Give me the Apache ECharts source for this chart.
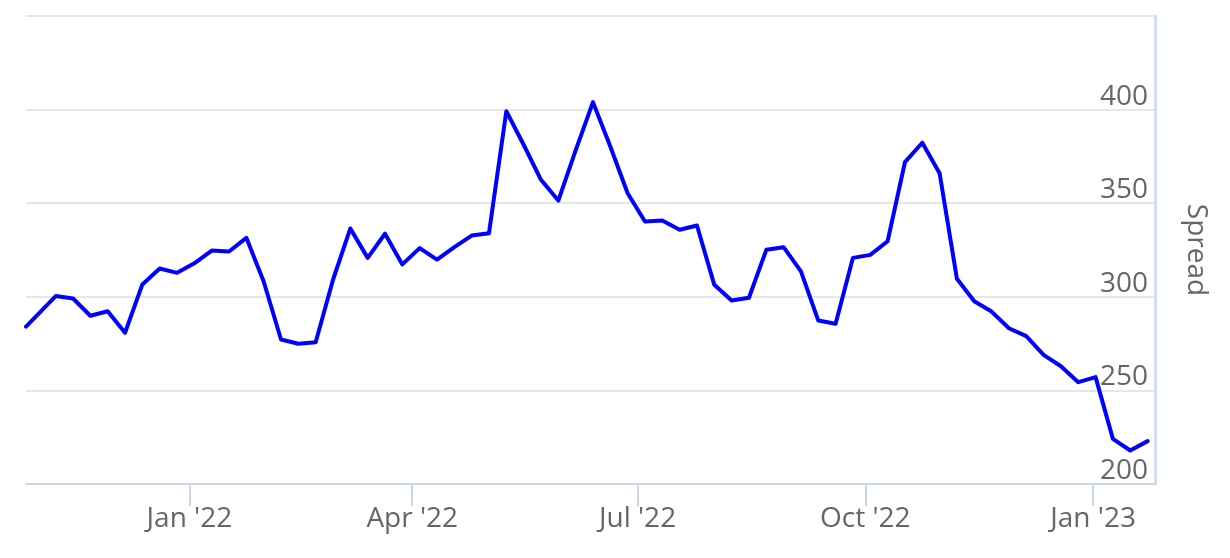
<!DOCTYPE html>
<html>
<head>
<meta charset="utf-8">
<script src="https://cdn.jsdelivr.net/npm/echarts@6/dist/echarts.min.js"></script>
<style>
html,body{margin:0;padding:0;background:#fff;}
#chart{width:1230px;height:558px;}
</style>
</head>
<body>
<div id="chart"></div>
<script>
const dates = [
'2021-10-27','2021-11-08','2021-11-15','2021-11-22','2021-11-29','2021-12-06','2021-12-13','2021-12-20','2021-12-27',
'2022-01-03','2022-01-10','2022-01-17','2022-01-24','2022-01-31','2022-02-07','2022-02-14','2022-02-21','2022-02-28',
'2022-03-07','2022-03-14','2022-03-21','2022-03-28','2022-04-04','2022-04-11','2022-04-18','2022-04-25','2022-05-02',
'2022-05-09','2022-05-16','2022-05-23','2022-05-30','2022-06-06','2022-06-13','2022-06-20','2022-06-27','2022-07-04',
'2022-07-11','2022-07-18','2022-07-25','2022-08-01','2022-08-08','2022-08-15','2022-08-22','2022-08-29','2022-09-05',
'2022-09-12','2022-09-19','2022-09-26','2022-10-03','2022-10-10','2022-10-17','2022-10-24','2022-10-31','2022-11-07',
'2022-11-14','2022-11-21','2022-11-28','2022-12-05','2022-12-12','2022-12-19','2022-12-26','2023-01-02','2023-01-09',
'2023-01-16','2023-01-23'
];
const spread = [
284.1,300.4,299.1,289.9,292.3,280.8,306.6,315.1,312.8,
317.9,324.7,324.2,331.5,308.2,277.2,274.9,275.7,309.1,
336.5,320.8,333.7,317.3,326.0,319.9,326.5,332.7,334.0,
399.1,381.2,362.5,351.4,378.2,404.0,380.3,355.3,340.2,
340.8,335.8,338.1,306.4,298.0,299.5,325.1,326.5,313.6,
287.3,285.6,320.8,322.4,329.7,371.9,382.3,366.0,309.6,
297.6,292.1,283.2,279.0,269.0,262.9,254.4,257.1,224.1,
217.9,222.9
];
const xTickDates = ['2022-01-01','2022-04-01','2022-07-01','2022-10-01','2023-01-01'];
const monthNames = ['Jan','Feb','Mar','Apr','May','Jun','Jul','Aug','Sep','Oct','Nov','Dec'];
const xMin = '2021-10-27';
const xMax = '2023-01-26';
const yMin = 200, yMax = 450, yStep = 50;

function ts(s){ const p = s.split('-').map(Number); return Date.UTC(p[0], p[1]-1, p[2]); }

const font = '"Open Sans", sans-serif';
const chart = echarts.init(document.getElementById('chart'));
chart.setOption({
  animation: false,
  backgroundColor: '#ffffff',
  grid: { left: 26, right: 75, top: 16, bottom: 74 },
  xAxis: {
    type: 'value',
    min: ts(xMin), max: ts(xMax),
    axisLine: { show: true, lineStyle: { color: '#ccd6eb', width: 2 } },
    axisTick: { show: true, length: 22, lineStyle: { color: '#ccd6eb', width: 2 }, customValues: xTickDates.map(ts) },
    axisLabel: {
      customValues: xTickDates.map(ts),
      fontSize: 28, color: '#666666', fontFamily: font, margin: 21,
      formatter: function (v) { const d = new Date(v); return monthNames[d.getUTCMonth()] + " '" + String(d.getUTCFullYear()).slice(2); }
    },
    splitLine: { show: false }
  },
  yAxis: {
    type: 'value', position: 'right',
    min: yMin, max: yMax, interval: yStep,
    name: 'Spread', nameLocation: 'middle', nameRotate: -90, nameGap: 27,
    nameTextStyle: { fontSize: 28, color: '#666666', fontFamily: font },
    axisLine: { show: true, lineStyle: { color: '#ccd6eb', width: 2.5 } },
    axisTick: { show: false },
    splitLine: { show: true, lineStyle: { color: '#e6e6e6', width: 2 } },
    axisLabel: {
      inside: true, margin: 7, fontSize: 28, color: '#666666', fontFamily: font,
      verticalAlign: 'bottom', lineHeight: 26,
      formatter: function (v) { return v >= yMax ? '' : String(v); }
    }
  },
  series: [{
    type: 'line',
    data: dates.map((d, i) => [ts(d), spread[i]]),
    showSymbol: false,
    lineStyle: { color: '#0000ff', width: 4, cap: 'round', join: 'round' },
    itemStyle: { color: '#0000ff' }
  }]
});
</script>
</body>
</html>
